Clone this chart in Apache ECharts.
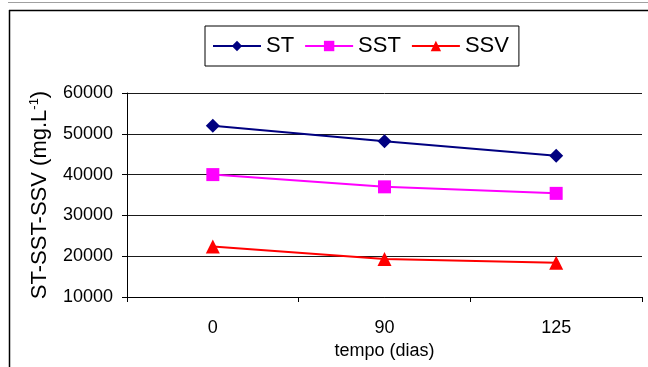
<!DOCTYPE html>
<html>
<head>
<meta charset="utf-8">
<script src="https://cdn.jsdelivr.net/npm/echarts@6/dist/echarts.min.js"></script>
<style>
  html, body { margin: 0; padding: 0; background: #fff; }
  #chart { width: 648px; height: 367px; }
</style>
</head>
<body>
<div id="chart"></div>
<script>
// Sampling days
const categories = ['0', '90', '125'];

// Solids concentration (mg/L)
const stValues  = [52000, 48200, 44600];
const sstValues = [40000, 37000, 35400];
const ssvValues = [22400, 19300, 18400];

const seriesNames = ['ST', 'SST', 'SSV'];

const yMin = 10000;
const yMax = 60000;
const yStep = 10000;

const FONT = '"Liberation Sans", Arial, sans-serif';

const chart = echarts.init(document.getElementById('chart'), null, { renderer: 'canvas' });

chart.setOption({
  backgroundColor: '#ffffff',
  animation: false,
  textStyle: { fontFamily: FONT, color: '#000' },
  graphic: [
    { type: 'line', shape: { x1: 8, y1: 2.5, x2: 648, y2: 2.5 }, style: { stroke: '#a0a0a0', lineWidth: 1 } },
    { type: 'line', shape: { x1: 9, y1: 10.5, x2: 648, y2: 10.5 }, style: { stroke: '#000', lineWidth: 1.5 } },
    { type: 'line', shape: { x1: 9.5, y1: 10, x2: 9.5, y2: 367 }, style: { stroke: '#000', lineWidth: 1.5 } }
  ],
  legend: {
    data: seriesNames,
    left: 205,
    top: 26,
    padding: [9, 10, 9, 7],
    itemWidth: 48,
    itemHeight: 13,
    itemGap: 10,
    borderColor: '#000',
    borderWidth: 1,
    textStyle: { fontFamily: FONT, fontSize: 22, color: '#000' }
  },
  grid: { left: 127, right: 6, top: 93, bottom: 70, containLabel: false },
  xAxis: {
    type: 'category',
    data: categories,
    boundaryGap: true,
    name: 'tempo (dias)',
    nameLocation: 'middle',
    nameGap: 40,
    nameTextStyle: { fontFamily: FONT, fontSize: 18, color: '#000' },
    axisLine: { onZero: false, lineStyle: { color: '#000', width: 1 } },
    axisTick: { show: true, length: 5, lineStyle: { color: '#000' } },
    axisLabel: { margin: 22, fontFamily: FONT, fontSize: 18, color: '#000' },
    splitLine: { show: false }
  },
  yAxis: {
    type: 'value',
    min: yMin,
    max: yMax,
    interval: yStep,
    name: 'ST-SST-SSV (mg.L{sup|-1})',
    nameLocation: 'middle',
    nameRotate: 90,
    nameGap: 54,
    nameTextStyle: {
      fontFamily: FONT, fontSize: 22, color: '#000', lineHeight: 24,
      rich: {
        sup: { fontFamily: FONT, fontSize: 13, color: '#000', verticalAlign: 'top', lineHeight: 24 }
      }
    },
    axisLine: { show: true, lineStyle: { color: '#000', width: 1 } },
    axisTick: { show: true, length: 5, lineStyle: { color: '#000' } },
    axisLabel: {
      margin: 14, fontFamily: FONT, fontSize: 18, color: '#000',
      formatter: function (v) { return String(v); }
    },
    splitLine: { show: true, lineStyle: { color: '#1a1a1a', width: 1 } }
  },
  series: [
    {
      name: seriesNames[0], type: 'line', data: stValues,
      symbol: 'diamond', symbolSize: 14,
      lineStyle: { color: '#000080', width: 2 },
      itemStyle: { color: '#000080' }
    },
    {
      name: seriesNames[1], type: 'line', data: sstValues,
      symbol: 'rect', symbolSize: 13,
      lineStyle: { color: '#ff00ff', width: 2 },
      itemStyle: { color: '#ff00ff' }
    },
    {
      name: seriesNames[2], type: 'line', data: ssvValues,
      symbol: 'triangle', symbolSize: 14,
      lineStyle: { color: '#ff0000', width: 2 },
      itemStyle: { color: '#ff0000' }
    }
  ]
});
</script>
</body>
</html>
